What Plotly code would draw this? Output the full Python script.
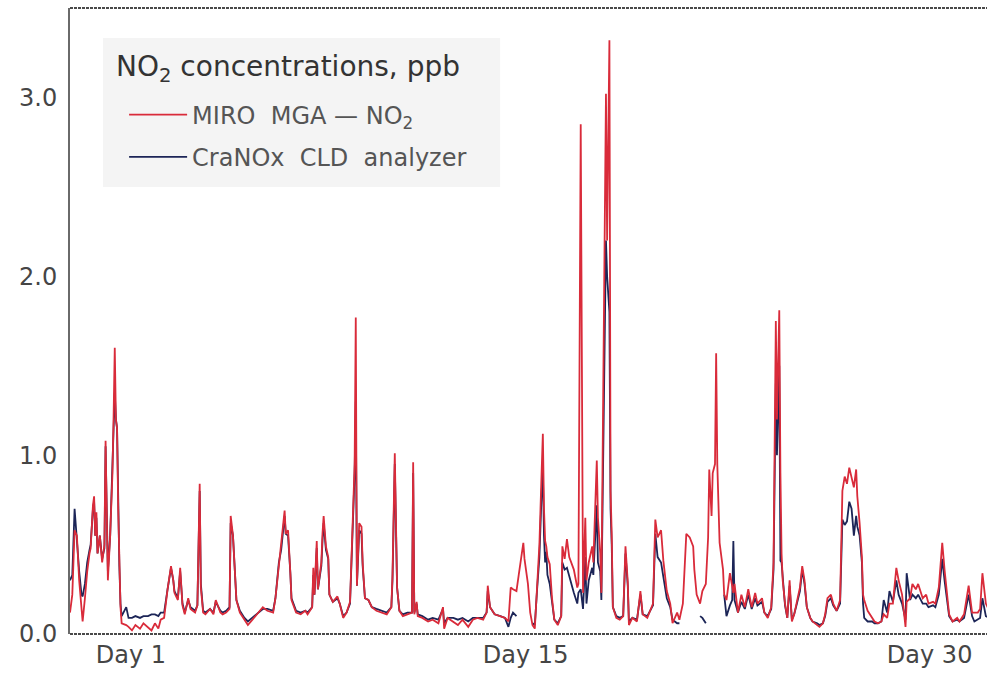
import plotly.graph_objects as go

# Hours since the start of the campaign
hours = [
    0, 2, 4, 6, 8, 10, 11, 13, 15, 17, 18, 20, 21, 22, 23, 24, 26, 28, 30, 31,
    33, 35, 37, 38, 39, 40, 41, 42, 43, 44, 45, 49, 51, 54, 57, 61, 64, 68, 71, 74,
    77, 79, 82, 85, 87, 88, 90, 91, 94, 96, 98, 100, 103, 105, 109, 111, 113, 114, 116, 118,
    122, 125, 127, 131, 133, 136, 139, 140, 142, 144, 145, 148, 152, 155, 159, 164, 168, 172, 177, 179,
    182, 184, 187, 188, 190, 192, 193, 197, 201, 205, 207, 211, 212, 213, 215, 216, 219, 220, 221, 223,
    225, 226, 229, 233, 235, 238, 241, 244, 246, 248, 249, 250, 252, 254, 255, 257, 260, 263, 267, 272,
    276, 280, 281, 283, 285, 287, 290, 294, 298, 299, 300, 302, 303, 307, 312, 316, 321, 325, 326, 329,
    334, 338, 342, 347, 351, 355, 360, 363, 364, 366, 370, 375, 379, 382, 384, 386, 389, 391, 395, 396,
    399, 401, 403, 405, 407, 409, 411, 412, 413, 414, 415, 416, 418, 420, 422, 425, 428, 429, 431, 433,
    435, 437, 439, 442, 443, 445, 447, 449, 450, 452, 455, 456, 459, 460, 462, 463, 465, 467, 468, 470,
    471, 472, 473, 476, 479, 482, 484, 486, 487, 490, 494, 497, 499, 503, 508, 510, 512, 515, 517, 520,
    523, 525, 529, 531, 534, 536, 537, 540, 543, 544, 546, 549, 551, 554, 556, 557, 559, 560, 562, 563,
    564, 566, 569, 570, 572, 575, 577, 578, 579, 582, 585, 588, 591, 594, 597, 599, 603, 605, 608, 611,
    613, 615, 616, 618, 619, 620, 621, 623, 625, 627, 629, 631, 633, 636, 638, 640, 642, 645, 647, 651,
    653, 656, 658, 660, 663, 665, 668, 671, 673, 675, 677, 679, 681, 683, 685, 686, 688, 690, 691, 692,
    695, 699, 701, 704, 707, 709, 712, 714, 717, 720, 722, 725, 726, 728, 729, 732, 734, 737, 739, 743,
    746, 748, 752, 754, 757, 760, 762, 764, 766, 769, 773, 775, 779, 783, 786, 788, 791, 793, 795, 798,
    801,
]

# MIRO MGA NO2 readings, ppb
miro_no2 = [
    0.12, 0.22, 0.58, 0.55, 0.30, 0.12, 0.07, 0.20, 0.35, 0.45, 0.48, 0.72, 0.77, 0.55, 0.68, 0.45, 0.55, 0.40, 0.50, 1.08,
    0.30, 0.55, 0.90, 1.22, 1.60, 1.20, 1.15, 0.70, 0.35, 0.15, 0.06, 0.05, 0.04, 0.02, 0.05, 0.03, 0.06, 0.04, 0.02, 0.06,
    0.03, 0.08, 0.09, 0.25, 0.36, 0.38, 0.30, 0.23, 0.19, 0.37, 0.16, 0.11, 0.20, 0.14, 0.12, 0.16, 0.84, 0.26, 0.12, 0.11,
    0.14, 0.11, 0.19, 0.12, 0.11, 0.12, 0.14, 0.66, 0.55, 0.25, 0.19, 0.12, 0.08, 0.05, 0.08, 0.12, 0.15, 0.13, 0.12, 0.20,
    0.40, 0.49, 0.69, 0.56, 0.58, 0.34, 0.19, 0.12, 0.11, 0.13, 0.11, 0.15, 0.37, 0.22, 0.52, 0.25, 0.40, 0.56, 0.66, 0.49,
    0.43, 0.22, 0.18, 0.21, 0.17, 0.09, 0.12, 0.18, 0.55, 0.95, 1.77, 0.27, 0.62, 0.60, 0.40, 0.20, 0.19, 0.15, 0.13, 0.12,
    0.11, 0.15, 0.33, 1.01, 0.26, 0.13, 0.10, 0.11, 0.12, 0.96, 0.11, 0.18, 0.10, 0.09, 0.07, 0.08, 0.06, 0.15, 0.03, 0.09,
    0.07, 0.05, 0.08, 0.04, 0.08, 0.09, 0.08, 0.12, 0.27, 0.15, 0.11, 0.10, 0.09, 0.07, 0.26, 0.25, 0.24, 0.33, 0.51, 0.42,
    0.28, 0.12, 0.05, 0.03, 0.27, 0.50, 0.92, 1.12, 0.70, 0.52, 0.49, 0.43, 0.39, 0.20, 0.08, 0.05, 0.10, 0.49, 0.42, 0.53,
    0.43, 0.40, 0.36, 0.26, 0.28, 2.85, 0.23, 0.65, 0.30, 0.40, 0.49, 0.40, 0.97, 0.65, 0.45, 0.23, 1.50, 3.02, 2.20, 3.32,
    0.80, 0.56, 0.15, 0.09, 0.08, 0.10, 0.49, 0.29, 0.05, 0.09, 0.07, 0.24, 0.11, 0.09, 0.17, 0.64, 0.54, 0.58, 0.41, 0.24,
    0.17, 0.06, 0.12, 0.08, 0.17, 0.40, 0.56, 0.54, 0.49, 0.36, 0.22, 0.17, 0.24, 0.28, 0.54, 0.92, 0.66, 0.90, 0.95, 1.57,
    0.95, 0.51, 0.36, 0.22, 0.19, 0.34, 0.25, 0.23, 0.28, 0.12, 0.22, 0.15, 0.25, 0.15, 0.23, 0.17, 0.20, 0.12, 0.09, 0.15,
    0.40, 1.75, 1.20, 1.81, 0.90, 0.45, 0.30, 0.17, 0.09, 0.30, 0.07, 0.11, 0.17, 0.26, 0.38, 0.30, 0.15, 0.09, 0.07, 0.05,
    0.04, 0.06, 0.11, 0.20, 0.22, 0.17, 0.13, 0.19, 0.80, 0.88, 0.84, 0.93, 0.88, 0.82, 0.92, 0.77, 0.62, 0.43, 0.22, 0.19,
    0.13, 0.09, 0.07, 0.06, 0.07, 0.11, 0.09, 0.17, 0.17, 0.37, 0.30, 0.22, 0.15, 0.04, 0.18, 0.20, 0.28, 0.25, 0.28, 0.20,
    0.22, 0.17, 0.18, 0.17, 0.26, 0.51, 0.36, 0.24, 0.11, 0.07, 0.09, 0.07, 0.11, 0.27, 0.12, 0.12, 0.12, 0.14, 0.34, 0.17,
    0.13,
]

# CraNOx CLD analyzer readings, ppb (None = no data)
cranox_no2 = [
    0.30, 0.33, 0.70, 0.50, 0.35, 0.22, 0.21, 0.28, 0.40, 0.47, 0.50, 0.70, 0.74, 0.55, 0.65, 0.45, 0.55, 0.42, 0.48, 1.05,
    0.35, 0.55, 0.88, 1.15, 1.35, 1.20, 1.15, 0.70, 0.38, 0.17, 0.10, 0.15, 0.09, 0.09, 0.10, 0.09, 0.10, 0.10, 0.11, 0.11,
    0.10, 0.12, 0.12, 0.25, 0.35, 0.37, 0.30, 0.24, 0.20, 0.35, 0.17, 0.12, 0.19, 0.15, 0.13, 0.16, 0.80, 0.28, 0.13, 0.12,
    0.14, 0.12, 0.18, 0.13, 0.12, 0.13, 0.15, 0.62, 0.55, 0.25, 0.19, 0.13, 0.09, 0.07, 0.09, 0.12, 0.14, 0.14, 0.13, 0.20,
    0.40, 0.47, 0.66, 0.56, 0.55, 0.34, 0.20, 0.13, 0.12, 0.13, 0.12, 0.15, 0.33, 0.22, 0.48, 0.25, 0.38, 0.52, 0.62, 0.47,
    0.42, 0.22, 0.18, 0.20, 0.17, 0.10, 0.12, 0.17, 0.50, 0.90, 1.30, 0.27, 0.58, 0.56, 0.38, 0.20, 0.19, 0.15, 0.14, 0.13,
    0.12, 0.15, 0.30, 0.95, 0.26, 0.13, 0.11, 0.12, 0.12, 0.90, 0.12, 0.17, 0.11, 0.10, 0.08, 0.09, 0.08, 0.14, 0.06, 0.09,
    0.09, 0.08, 0.09, 0.07, 0.09, 0.09, 0.09, 0.12, 0.24, 0.15, 0.11, 0.10, 0.09, 0.04, 0.09, 0.12, 0.10, None, None, None,
    None, None, 0.06, 0.05, 0.25, 0.43, 0.80, 0.92, 0.55, 0.40, 0.46, 0.33, 0.28, 0.18, 0.08, 0.06, 0.10, 0.40, 0.36, 0.37,
    0.32, 0.28, 0.23, 0.17, 0.23, 0.25, 0.14, 0.43, 0.17, 0.30, 0.37, 0.33, 0.72, 0.40, 0.35, 0.19, 1.30, 2.20, 2.00, 1.80,
    0.70, 0.50, 0.15, 0.10, 0.09, 0.10, 0.45, 0.27, 0.07, 0.09, 0.08, 0.22, 0.11, 0.10, 0.16, 0.56, 0.43, 0.40, 0.32, 0.20,
    0.15, 0.08, 0.06, 0.06, None, None, None, None, None, None, None, 0.10, 0.09, 0.06, None, None, None, None, None, None,
    None, None, None, 0.22, 0.10, 0.16, 0.19, 0.52, 0.19, 0.12, 0.18, 0.14, 0.22, 0.14, 0.20, 0.16, 0.18, 0.12, 0.10, 0.14,
    0.36, 1.40, 1.00, 1.50, 0.41, 0.40, 0.30, 0.16, 0.09, 0.27, 0.08, 0.11, 0.16, 0.24, 0.36, 0.28, 0.15, 0.09, 0.07, 0.06,
    0.05, 0.06, 0.10, 0.18, 0.20, 0.16, 0.13, 0.17, 0.64, 0.61, 0.63, 0.74, 0.70, 0.55, 0.66, 0.60, 0.55, 0.40, 0.17, 0.09,
    0.07, 0.07, 0.06, 0.06, 0.07, 0.19, 0.12, 0.24, 0.18, 0.30, 0.22, 0.17, 0.14, 0.08, 0.34, 0.19, 0.22, 0.20, 0.22, 0.17,
    0.17, 0.15, 0.16, 0.15, 0.22, 0.42, 0.30, 0.20, 0.10, 0.07, 0.08, 0.07, 0.09, 0.22, 0.10, 0.07, 0.08, 0.09, 0.20, 0.10,
    0.09,
]

# Day labels on the time axis and the hour each one sits at
day_labels = ["Day 1", "Day 15", "Day 30"]
day_tick_hours = [53, 397, 749]

y_ticks = [0, 1, 2, 3]

RED = "#d92b3a"
NAVY = "#1c2557"
TEXT = "#454545"
FONT = "DejaVu Sans"

fig = go.Figure()

fig.add_trace(go.Scatter(
    x=hours, y=cranox_no2, mode="lines",
    name="CraNOx\u00a0 CLD\u00a0 analyzer",
    line=dict(color=NAVY, width=1.8),
    connectgaps=False, legendrank=2, legendgroup="cranox",
))
fig.add_trace(go.Scatter(
    x=hours, y=miro_no2, mode="lines",
    name="MIRO\u00a0 MGA — NO<sub>2</sub>",
    line=dict(color=RED, width=1.8),
    legendrank=1, legendgroup="miro",
))

fig.update_layout(
    width=987, height=674,
    margin=dict(l=70, r=0, t=8, b=40),
    paper_bgcolor="white", plot_bgcolor="white",
    font=dict(family=FONT, color=TEXT, size=24),
    showlegend=True,
    legend=dict(
        x=0.059, y=0.865, xanchor="left", yanchor="top",
        bgcolor="rgba(0,0,0,0)",
        borderwidth=0,
        itemwidth=58,
        tracegroupgap=8,
        font=dict(family=FONT, size=24, color="#555555"),
    ),
    xaxis=dict(
        range=[0, 799], showgrid=False, zeroline=False, showline=False,
        tickvals=day_tick_hours, ticktext=day_labels, ticks="",
        tickfont=dict(family=FONT, size=24, color=TEXT),
        ticklabelstandoff=4,
    ),
    yaxis=dict(
        range=[0, 3.5], showgrid=False, zeroline=False,
        showline=True, linecolor="#6a6a6a", linewidth=2,
        tickvals=y_ticks, tickformat=".1f", ticks="",
        tickfont=dict(family=FONT, size=24, color=TEXT),
        ticklabelstandoff=6,
    ),
    annotations=[
        dict(text="NO<sub>2</sub> concentrations, ppb", xref="paper", yref="paper",
             x=0.048, y=0.903, xanchor="left", yanchor="middle", showarrow=False,
             font=dict(family=FONT, size=28, color="#333333")),
    ],
    shapes=[
        # legend panel
        dict(type="rect", xref="paper", yref="paper", layer="below",
             x0=0.036, x1=0.469, y0=0.714, y1=0.952,
             fillcolor="rgba(242,242,242,0.85)", line=dict(width=0)),
        dict(type="line", xref="paper", yref="paper", x0=0, x1=1, y0=1, y1=1,
             line=dict(color="#4a4a4a", width=2, dash="3px,1px")),
        dict(type="line", xref="paper", yref="paper", x0=0, x1=1, y0=0, y1=0,
             line=dict(color="#4a4a4a", width=2, dash="3px,1px")),
    ],
)

fig.write_html("out.html", config={"displayModeBar": False})
